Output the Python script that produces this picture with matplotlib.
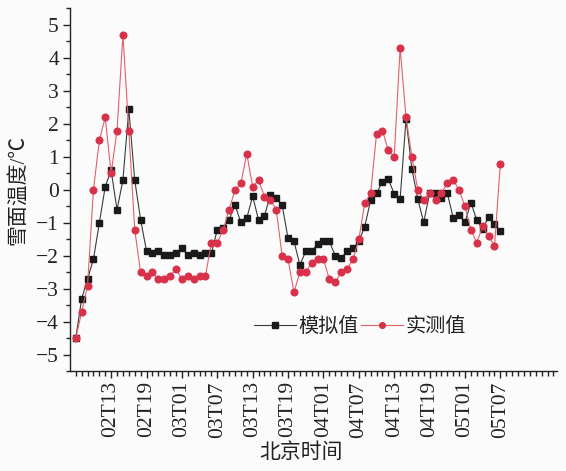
import matplotlib
matplotlib.use('Agg')
import matplotlib.pyplot as plt
from matplotlib.ticker import MultipleLocator, FixedLocator, FixedFormatter

# 逐时数据，从 02T07 到 05T07
hours = list(range(73))
simulated = [-4.5, -3.3, -2.7, -2.1, -1.0, 0.1, 0.6, -0.6, 0.3, 2.45,
             0.3, -0.9, -1.85, -1.9, -1.85, -1.97, -1.97, -1.9, -1.77, -1.97,
             -1.92, -1.97, -1.92, -1.92, -1.2, -1.15, -0.9, -0.46, -0.98, -0.85,
             -0.19, -0.91, -0.78, -0.16, -0.24, -0.46, -1.47, -1.55, -2.27, -1.86,
             -1.86, -1.63, -1.56, -1.56, -1.99, -2.07, -1.85, -1.77, -1.56, -1.11,
             -0.31, -0.1, 0.25, 0.32, -0.11, -0.28, 2.15, 0.63, -0.28, -0.98,
             -0.1, -0.1, -0.25, -0.1, -0.84, -0.76, -0.98, -0.38, -0.91, -1.19,
             -0.81, -1.03, -1.25]
measured = [-4.5, -3.7, -2.9, 0.0, 1.5, 2.2, 0.5, 1.8, 4.7, 1.8,
            -1.2, -2.5, -2.6, -2.5, -2.7, -2.7, -2.6, -2.4, -2.7, -2.6,
            -2.7, -2.6, -2.6, -1.6, -1.6, -1.2, -0.6, 0.0, 0.2, 1.1,
            0.1, 0.3, -0.2, -0.3, -0.6, -2.0, -2.1, -3.1, -2.5, -2.5,
            -2.2, -2.1, -2.1, -2.7, -2.8, -2.5, -2.4, -2.1, -1.5, -0.4,
            -0.1, 1.7, 1.8, 1.2, 1.0, 4.3, 2.2, 1.0, 0.0, -0.3,
            -0.1, -0.3, -0.1, 0.2, 0.3, 0.0, -0.5, -1.2, -1.6, -1.1,
            -1.4, -1.7, 0.8]
tick_hours = [6, 12, 18, 24, 30, 36, 42, 48, 54, 60, 66, 72]
tick_labels = ['02T13', '02T19', '03T01', '03T07', '03T13', '03T19',
               '04T01', '04T07', '04T13', '04T19', '05T01', '05T07']

serif = ['Liberation Serif', 'Noto Sans CJK SC']
plt.rcParams['font.family'] = serif
plt.rcParams['axes.unicode_minus'] = True

fig = plt.figure(figsize=(5.66, 4.71), dpi=100, facecolor='#fbfbfb')
ax = fig.add_axes([0.1237, 0.2113, 0.8604, 0.7707], facecolor='#fbfbfb')

ax.plot(hours, simulated, color='#3a3a3a', lw=0.8, marker='s', ms=4.4,
        mfc='#1a1a1a', mec='#1a1a1a', label='模拟值', zorder=2)
ax.plot(hours, measured, color='#e2606c', lw=0.8, marker='o', ms=4.8,
        mfc='#d8324a', mec='#d8324a', label='实测值', zorder=3)

ax.set_xlim(-0.97, 81.6)
ax.set_ylim(-5.5, 5.5)

ax.spines['top'].set_visible(False)
ax.spines['right'].set_visible(False)
for s in ['left', 'bottom']:
    ax.spines[s].set_linewidth(1.0)
    ax.spines[s].set_color('#222222')

ax.yaxis.set_major_locator(MultipleLocator(1))
ax.yaxis.set_minor_locator(MultipleLocator(0.5))
ax.xaxis.set_major_locator(FixedLocator(tick_hours))
ax.xaxis.set_major_formatter(FixedFormatter(tick_labels))
ax.xaxis.set_minor_locator(MultipleLocator(1))

ax.tick_params(axis='y', which='major', direction='out', length=5, width=1,
               labelsize=15.5, pad=3, colors='#222222')
ax.tick_params(axis='y', which='minor', direction='out', length=3, width=1,
               colors='#222222')
ax.tick_params(axis='x', which='major', direction='out', length=5, width=1,
               labelsize=15.5, pad=2, colors='#222222', labelrotation=90)
ax.tick_params(axis='x', which='minor', direction='out', length=3.5, width=1,
               colors='#222222')

ax.set_ylabel('雪面温度/℃', fontsize=15, color='#222222')
ax.yaxis.set_label_coords(-0.085, 0.5)
ax.set_xlabel('北京时间', fontsize=15, color='#222222')
ax.xaxis.set_label_coords(0.474, -0.198)

ax.legend(loc='center', bbox_to_anchor=(0.595, 0.12), ncol=2, frameon=False,
          fontsize=14.5, handlelength=2.1, handletextpad=0.1,
          columnspacing=0.1, markerscale=0.85, labelcolor='#222222')

fig.savefig('out.png', dpi=100, facecolor=fig.get_facecolor())
